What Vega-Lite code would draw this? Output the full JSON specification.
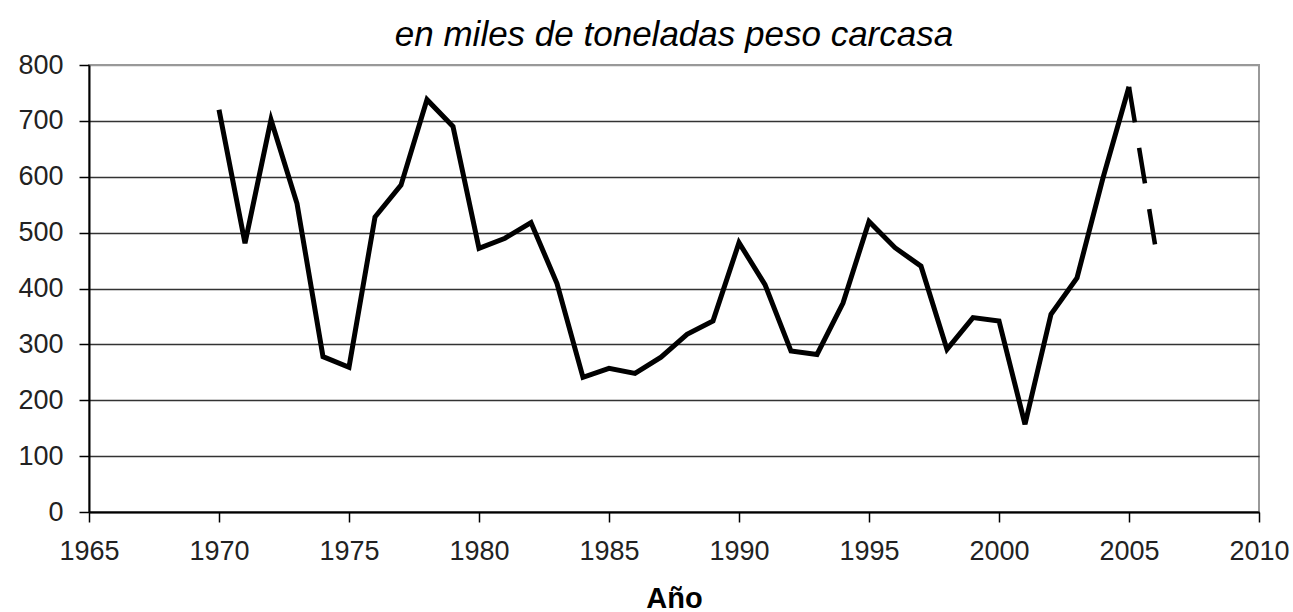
{
  "$schema": "https://vega.github.io/schema/vega-lite/v6.json",
  "autosize": {"type": "none"},
  "width": 1170,
  "height": 447,
  "padding": {"left": 89, "top": 65, "right": 34, "bottom": 100},
  "background": "white",
  "config": {
    "font": "Liberation Sans",
    "view": {"stroke": "#999999", "strokeWidth": 2}
  },
  "title": {
    "text": "en miles de toneladas peso carcasa",
    "font": "Liberation Sans",
    "fontStyle": "italic",
    "fontWeight": "normal",
    "fontSize": 35,
    "color": "black",
    "anchor": "middle",
    "frame": "group",
    "baseline": "alphabetic",
    "offset": -30
  },
  "data": {
    "values": [
      {"anio": 1970, "miles_t": 720, "tramo": "real"},
      {"anio": 1971, "miles_t": 481, "tramo": "real"},
      {"anio": 1972, "miles_t": 702, "tramo": "real"},
      {"anio": 1973, "miles_t": 552, "tramo": "real"},
      {"anio": 1974, "miles_t": 278, "tramo": "real"},
      {"anio": 1975, "miles_t": 259, "tramo": "real"},
      {"anio": 1976, "miles_t": 528, "tramo": "real"},
      {"anio": 1977, "miles_t": 585, "tramo": "real"},
      {"anio": 1978, "miles_t": 738, "tramo": "real"},
      {"anio": 1979, "miles_t": 690, "tramo": "real"},
      {"anio": 1980, "miles_t": 472, "tramo": "real"},
      {"anio": 1981, "miles_t": 490, "tramo": "real"},
      {"anio": 1982, "miles_t": 518, "tramo": "real"},
      {"anio": 1983, "miles_t": 409, "tramo": "real"},
      {"anio": 1984, "miles_t": 241, "tramo": "real"},
      {"anio": 1985, "miles_t": 257, "tramo": "real"},
      {"anio": 1986, "miles_t": 248, "tramo": "real"},
      {"anio": 1987, "miles_t": 277, "tramo": "real"},
      {"anio": 1988, "miles_t": 318, "tramo": "real"},
      {"anio": 1989, "miles_t": 342, "tramo": "real"},
      {"anio": 1990, "miles_t": 482, "tramo": "real"},
      {"anio": 1991, "miles_t": 407, "tramo": "real"},
      {"anio": 1992, "miles_t": 288, "tramo": "real"},
      {"anio": 1993, "miles_t": 282, "tramo": "real"},
      {"anio": 1994, "miles_t": 374, "tramo": "real"},
      {"anio": 1995, "miles_t": 520, "tramo": "real"},
      {"anio": 1996, "miles_t": 473, "tramo": "real"},
      {"anio": 1997, "miles_t": 440, "tramo": "real"},
      {"anio": 1998, "miles_t": 291, "tramo": "real"},
      {"anio": 1999, "miles_t": 348, "tramo": "real"},
      {"anio": 2000, "miles_t": 342, "tramo": "real"},
      {"anio": 2001, "miles_t": 157, "tramo": "real"},
      {"anio": 2002, "miles_t": 354, "tramo": "real"},
      {"anio": 2003, "miles_t": 419, "tramo": "real"},
      {"anio": 2004, "miles_t": 598, "tramo": "real"},
      {"anio": 2005, "miles_t": 761, "tramo": "real"},
      {"anio": 2005, "miles_t": 761, "tramo": "estimado"},
      {"anio": 2006, "miles_t": 479, "tramo": "estimado"}
    ]
  },
  "encoding": {
    "x": {
      "field": "anio",
      "type": "quantitative",
      "scale": {"domain": [1965, 2010], "nice": false, "zero": false},
      "axis": {
        "values": [1965, 1970, 1975, 1980, 1985, 1990, 1995, 2000, 2005, 2010],
        "format": "d",
        "title": "Año",
        "titleFont": "Liberation Sans",
        "titleFontSize": 29,
        "titleFontWeight": "bold",
        "titleColor": "black",
        "titlePadding": 20,
        "labelFont": "Liberation Sans",
        "labelFontSize": 27,
        "labelColor": "#222222",
        "labelPadding": 16,
        "labelFlush": false,
        "labelOverlap": false,
        "domainColor": "black",
        "domainWidth": 2,
        "tickColor": "black",
        "tickWidth": 1.5,
        "tickSize": 10,
        "grid": false
      }
    },
    "y": {
      "field": "miles_t",
      "type": "quantitative",
      "scale": {"domain": [0, 800], "nice": false},
      "axis": {
        "values": [0, 100, 200, 300, 400, 500, 600, 700, 800],
        "title": null,
        "labelFont": "Liberation Sans",
        "labelFontSize": 27,
        "labelColor": "#222222",
        "labelPadding": 16,
        "domainColor": "black",
        "domainWidth": 2,
        "tickColor": "black",
        "tickWidth": 1.5,
        "tickSize": 10,
        "grid": true,
        "gridColor": {"condition": {"test": "datum.value === 800", "value": "#999999"}, "value": "#333333"},
        "gridWidth": 1.6
      }
    }
  },
  "layer": [
    {
      "transform": [{"filter": "datum.tramo === 'real'"}],
      "mark": {"type": "line", "color": "black", "strokeWidth": 5, "strokeJoin": "miter", "strokeCap": "butt"}
    },
    {
      "transform": [{"filter": "datum.tramo === 'estimado'"}],
      "mark": {"type": "line", "color": "black", "strokeWidth": 4.5, "strokeDash": [36, 26], "strokeCap": "butt"}
    }
  ]
}
